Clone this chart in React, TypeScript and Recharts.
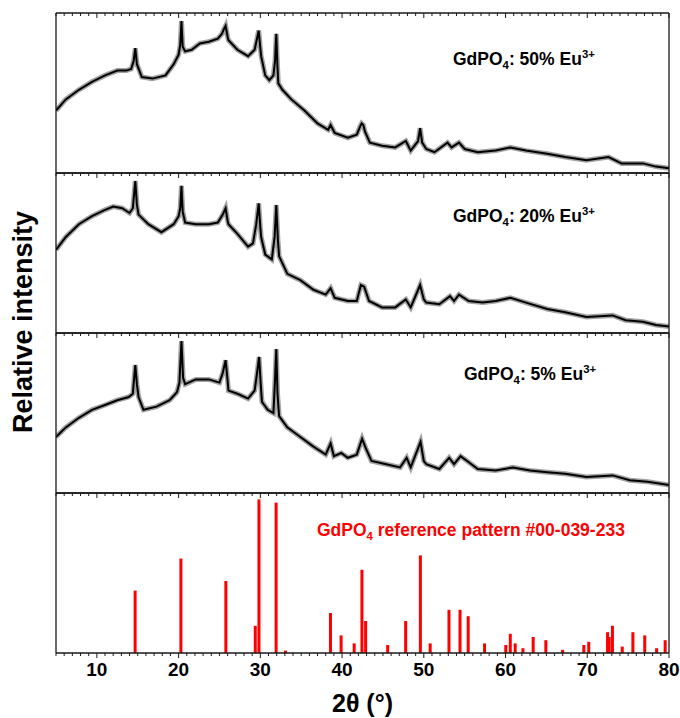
import React from "react";
import { ComposedChart, Line, Bar, XAxis, YAxis } from "recharts";

const FONT = "'Liberation Sans', Arial, sans-serif";

// 2θ tick positions (minor every 1°, labelled every 10°)
const minorTicks: number[] = [];
for (let t = 5; t <= 80; t++) minorTicks.push(t);
const tickLabels = [10, 20, 30, 40, 50, 60, 70, 80];

// Relative intensity (% of panel height), pairs of [2θ, intensity]
const eu50: [number, number][] = [
  [5.0, 39], [6.2, 46], [7.8, 52], [9.4, 57], [11.0, 61], [12.5, 64], [13.6, 64], [14.2, 65], [14.5, 70], [14.7, 78], [14.9, 68],
  [15.5, 60], [16.8, 59], [18.4, 61], [19.4, 68], [20.0, 74], [20.2, 80], [20.35, 95], [20.5, 79], [20.8, 76], [21.6, 77],
  [22.6, 81], [23.7, 82], [24.8, 84], [25.3, 87], [25.55, 90], [25.75, 92], [26.0, 85], [26.1, 83], [27.2, 77], [28.5, 73],
  [29.3, 77], [29.55, 83], [29.8, 89], [30.0, 78], [30.1, 73], [30.6, 61], [31.1, 58], [31.6, 61], [31.8, 70], [31.95, 87],
  [32.1, 66], [32.2, 56], [32.7, 52], [33.8, 46], [35.4, 39], [37.0, 31], [38.3, 27], [38.6, 30], [39.1, 25], [40.7, 22],
  [41.8, 24], [42.2, 29], [42.4, 31], [42.6, 30], [42.8, 26], [43.4, 19], [44.9, 17], [46.5, 16], [47.8, 20], [48.4, 14],
  [49.3, 20], [49.55, 28], [49.8, 19], [50.3, 15], [51.3, 13], [52.9, 19], [53.4, 16], [54.3, 19], [55.0, 15], [56.6, 13],
  [58.8, 14], [60.6, 16], [62.5, 14], [65.1, 12], [67.3, 10], [69.9, 8], [72.6, 10], [74.2, 6], [76.8, 6], [78.4, 4], [80.0, 3],
];

const eu20: [number, number][] = [
  [5.0, 52], [6.2, 60], [7.8, 68], [9.4, 73], [11.0, 77], [12.0, 79], [13.1, 78], [14.0, 75], [14.4, 78], [14.7, 95], [14.9, 80],
  [15.1, 74], [16.3, 68], [17.9, 63], [19.4, 68], [20.0, 73], [20.2, 78], [20.35, 92], [20.5, 76], [20.8, 69], [22.1, 68],
  [23.7, 68], [24.8, 69], [25.4, 74], [25.75, 78], [26.0, 70], [26.1, 68], [27.2, 62], [28.5, 54], [29.1, 56], [29.5, 68],
  [29.8, 81], [30.0, 66], [30.1, 60], [30.6, 49], [31.4, 46], [31.75, 60], [31.95, 80], [32.15, 58], [32.3, 48], [33.3, 37],
  [34.9, 33], [36.5, 27], [38.0, 24], [38.6, 28], [39.1, 22], [40.7, 20], [41.8, 20], [42.3, 30], [42.7, 29], [43.3, 20],
  [44.9, 16], [46.5, 16], [47.8, 21], [48.4, 16], [49.55, 30], [50.0, 21], [50.3, 19], [51.9, 18], [53.2, 23], [53.7, 20],
  [54.3, 24], [55.5, 20], [57.2, 19], [58.8, 20], [60.6, 22], [62.5, 19], [65.1, 15], [67.3, 13], [69.9, 10], [73.1, 11],
  [74.7, 8], [76.8, 7], [78.4, 5], [80.0, 4],
];

const eu5: [number, number][] = [
  [5.0, 35], [6.2, 41], [7.8, 47], [9.4, 52], [11.0, 55], [12.5, 58], [13.9, 60], [14.4, 62], [14.7, 80], [14.9, 68], [15.1, 60],
  [15.7, 52], [17.3, 54], [18.9, 58], [19.8, 63], [20.1, 69], [20.35, 95], [20.55, 72], [20.8, 68], [22.1, 71], [23.7, 71],
  [25.0, 69], [25.4, 75], [25.75, 83], [26.0, 70], [26.1, 64], [27.2, 62], [28.5, 59], [29.3, 64], [29.6, 75], [29.85, 85],
  [30.05, 68], [30.2, 57], [30.9, 52], [31.6, 50], [31.8, 71], [31.95, 90], [32.1, 62], [32.3, 48], [33.3, 41], [34.9, 35],
  [36.5, 29], [38.0, 24], [38.6, 31], [39.0, 23], [39.9, 25], [40.7, 22], [41.8, 24], [42.45, 34], [42.9, 28], [43.6, 20],
  [45.4, 18], [47.1, 16], [47.9, 22], [48.4, 16], [49.6, 32], [50.0, 20], [50.3, 18], [51.9, 15], [53.1, 22], [53.7, 18],
  [54.5, 23], [55.3, 20], [56.6, 15], [58.8, 14], [60.9, 16], [63.0, 14], [65.1, 13], [67.3, 12], [69.9, 10], [73.1, 11],
  [75.2, 8], [77.4, 7], [80.0, 5],
];

// GdPO4 reference pattern #00-039-233
const refTheta = [
  14.7, 20.3, 25.8, 29.4, 29.85, 31.95, 33.1, 38.6, 39.9, 41.5, 42.45, 42.9, 45.6, 47.8, 49.6, 50.8, 53.1, 54.45, 55.45,
  57.45, 60.05, 60.6, 61.2, 62.15, 63.4, 64.95, 67.0, 69.6, 70.2, 72.5, 72.7, 73.1, 74.3, 75.6, 77.05, 78.5, 79.55,
];
const refInt = [
  39, 59, 45, 17, 96, 94, 1.5, 25, 11, 6, 52, 20, 5, 20, 61, 6, 27, 27, 23,
  6, 5, 12, 6, 3, 10, 8, 2, 5, 7, 13, 10, 17, 4, 13, 11, 3, 8,
];

const toRows = (pts: [number, number][]) => pts.map(([x, y]) => ({ x, y }));
const refRows = refTheta.map((x, i) => ({ x, y: refInt[i] }));

const PLOT_L = 56;
const PLOT_R = 669;
const TOP0 = 13;
const PH = 160;
const AXIS = "#1a1a1a";

function TickMark(props: any) {
  const { x, y, payload, showLabels } = props;
  const v = Number(payload?.value);
  const major = tickLabels.includes(v);
  return (
    <g>
      <line x1={x} x2={x} y1={y} y2={y + (major ? 5 : 3)} stroke={AXIS} strokeWidth={1} />
      {showLabels && major ? (
        <text x={x} y={y + 23} textAnchor="middle" fontFamily={FONT} fontWeight={700} fontSize={19} fill="#000">
          {v}
        </text>
      ) : null}
    </g>
  );
}

function Stick(props: any) {
  const { x, y, width, height, fill } = props;
  if (height == null || height <= 0) return null;
  const cx = x + width / 2;
  return <rect x={cx - 1.5} y={y} width={3} height={height} fill={fill} />;
}

function Panel({ index, rows, last, children }: { index: number; rows: any[]; last?: boolean; children: React.ReactNode }) {
  const top = TOP0 + index * PH;
  const mTop = 10;
  const mBottom = last ? 70 : 10;
  return (
    <div style={{ position: "absolute", left: 0, top: top - mTop }}>
      <ComposedChart
        width={680}
        height={PH + mTop + mBottom}
        data={rows}
        margin={{ top: mTop - 1, right: 680 - PLOT_R - 1, bottom: mBottom - 1, left: PLOT_L - 1 }}
      >
        <XAxis
          xAxisId="b"
          dataKey="x"
          type="number"
          domain={[5, 80]}
          ticks={minorTicks}
          interval={0}
          orientation="bottom"
          height={1}
          tickSize={0}
          tickMargin={0}
          tickLine={false}
          axisLine={{ stroke: AXIS, strokeWidth: 1.3 }}
          tick={last ? <TickMark showLabels={true} /> : false}
          allowDataOverflow
        />
        <XAxis
          xAxisId="t"
          dataKey="x"
          type="number"
          domain={[5, 80]}
          ticks={minorTicks}
          interval={0}
          orientation="top"
          height={1}
          tickSize={0}
          tickMargin={0}
          tickLine={false}
          axisLine={{ stroke: AXIS, strokeWidth: 1.3 }}
          tick={<TickMark showLabels={false} />}
          allowDataOverflow
        />
        <YAxis
          yAxisId="l"
          type="number"
          domain={[0, 100]}
          width={1}
          tick={false}
          tickLine={false}
          axisLine={{ stroke: AXIS, strokeWidth: 1.3 }}
          allowDataOverflow
        />
        <YAxis
          yAxisId="r"
          orientation="right"
          type="number"
          domain={[0, 100]}
          width={1}
          tick={false}
          tickLine={false}
          axisLine={{ stroke: AXIS, strokeWidth: 1.3 }}
          allowDataOverflow
        />
        {children}
      </ComposedChart>
    </div>
  );
}

function PatternLines() {
  return [
    <Line
      key="halo"
      xAxisId="b"
      yAxisId="l"
      type="linear"
      dataKey="y"
      stroke="#444"
      strokeOpacity={0.5}
      strokeWidth={5}
      dot={false}
      activeDot={false}
      isAnimationActive={false}
    />,
    <Line
      key="main"
      xAxisId="b"
      yAxisId="l"
      type="linear"
      dataKey="y"
      stroke="#000"
      strokeWidth={2}
      dot={false}
      activeDot={false}
      isAnimationActive={false}
    />,
  ];
}

const labelStyle: React.CSSProperties = {
  position: "absolute",
  fontFamily: FONT,
  fontWeight: 700,
  fontSize: 17.5,
  lineHeight: "17.5px",
  whiteSpace: "nowrap",
};
const Sub = ({ children }: { children: React.ReactNode }) => (
  <span style={{ fontSize: "0.65em", position: "relative", top: "0.35em" }}>{children}</span>
);
const Sup = ({ children }: { children: React.ReactNode }) => (
  <span style={{ fontSize: "0.65em", position: "relative", top: "-0.6em" }}>{children}</span>
);

export default function App() {
  return (
    <div style={{ position: "absolute", left: 0, top: 0, width: 680, height: 718, background: "#fff", overflow: "hidden" }}>
      <Panel index={0} rows={toRows(eu50)}>
        {PatternLines()}
      </Panel>
      <Panel index={1} rows={toRows(eu20)}>
        {PatternLines()}
      </Panel>
      <Panel index={2} rows={toRows(eu5)}>
        {PatternLines()}
      </Panel>
      <Panel index={3} rows={refRows} last>
        <Bar xAxisId="b" yAxisId="l" dataKey="y" fill="#ff0000" shape={<Stick />} isAnimationActive={false} />
      </Panel>

      <div style={{ ...labelStyle, left: 453, top: 51 }}>
        GdPO<Sub>4</Sub>: 50% Eu<Sup>3+</Sup>
      </div>
      <div style={{ ...labelStyle, left: 453, top: 208 }}>
        GdPO<Sub>4</Sub>: 20% Eu<Sup>3+</Sup>
      </div>
      <div style={{ ...labelStyle, left: 464, top: 366 }}>
        GdPO<Sub>4</Sub>: 5% Eu<Sup>3+</Sup>
      </div>
      <div style={{ ...labelStyle, left: 317, top: 522, color: "#ff0000" }}>
        GdPO<Sub>4</Sub> reference pattern #00-039-233
      </div>

      <div
        style={{
          position: "absolute",
          left: 362.5,
          top: 691,
          transform: "translateX(-50%)",
          fontFamily: FONT,
          fontWeight: 700,
          fontSize: 25,
          lineHeight: "25px",
          whiteSpace: "nowrap",
        }}
      >
        2θ (°)
      </div>
      <div
        style={{
          position: "absolute",
          left: 23,
          top: 322,
          transform: "translate(-50%, -50%) rotate(-90deg)",
          fontFamily: FONT,
          fontWeight: 700,
          fontSize: 27,
          lineHeight: "27px",
          whiteSpace: "nowrap",
        }}
      >
        Relative intensity
      </div>
    </div>
  );
}
